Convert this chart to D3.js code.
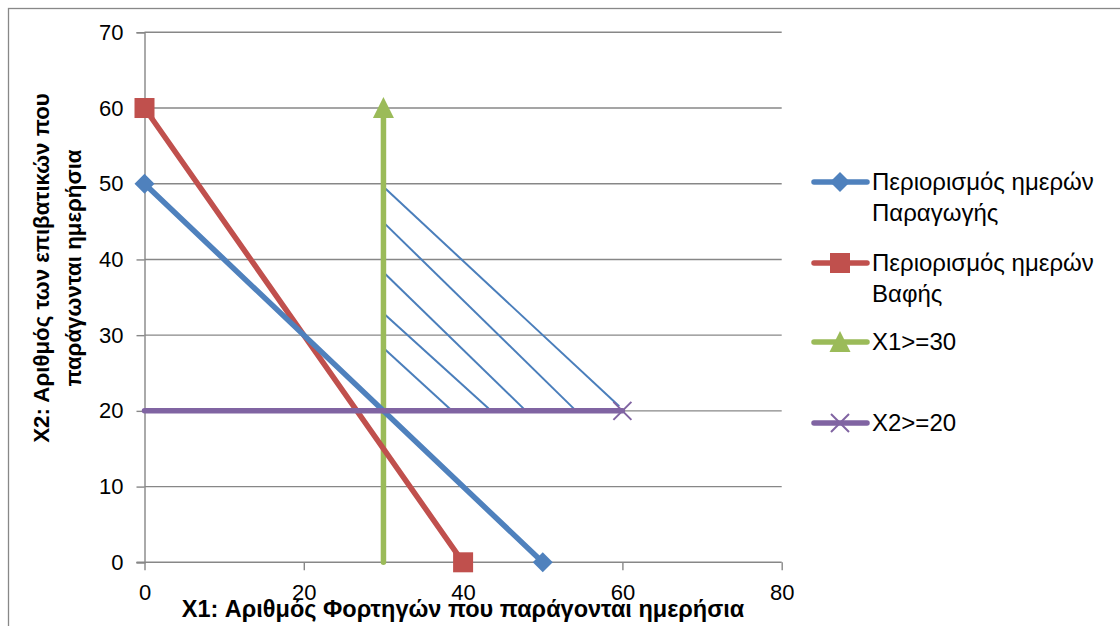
<!DOCTYPE html>
<html>
<head>
<meta charset="utf-8">
<script src="https://cdn.jsdelivr.net/npm/d3@7/dist/d3.min.js"></script>
<style>
  html, body { margin: 0; padding: 0; background: #fff; }
  svg { display: block; }
  text { font-family: "Liberation Sans", Arial, sans-serif; fill: #000; }
</style>
</head>
<body>
<svg id="chart" width="1120" height="626"></svg>
<script>
// ---- Data ----
const xTicks = [0, 20, 40, 60, 80];
const yTicks = [0, 10, 20, 30, 40, 50, 60, 70];

const seriesNames = ["Περιορισμός ημερών Παραγωγής", "Περιορισμός ημερών Βαφής", "X1>=30", "X2>=20"];
const legendLines = [["Περιορισμός ημερών", "Παραγωγής"], ["Περιορισμός ημερών", "Βαφής"], ["X1>=30"], ["X2>=20"]];
const productionX = [0, 50];
const productionY = [50, 0];
const dyeingX = [0, 40];
const dyeingY = [60, 0];
const x1LimitX = [30, 30];
const x1LimitY = [0, 60];
const x2LimitX = [0, 60];
const x2LimitY = [20, 20];
// points that carry a visible marker (index into each series)
const markedPoints = [[0, 1], [0, 1], [1], [1]];

// hatch lines inside the feasible region
const hatchStartX = [30, 30, 30, 30, 30];
const hatchStartY = [49.6, 44.9, 38.3, 32.9, 28.3];
const hatchEndX = [59.6, 53.9, 47.6, 43.2, 38.4];
const hatchEndY = [20.6, 20.3, 20.3, 20.3, 20.2];

const xTitle = "X1: Αριθμός Φορτηγών που παράγονται ημερήσια";
const yTitle = ["Χ2: Αριθμός των επιβατικών που", "παράγωνται ημερήσια"];

// ---- Styles ----
const colors = ["#4F81BD", "#C0504D", "#9BBB59", "#8064A2"];
const markerTypes = ["diamond", "square", "triangle", "x"];

const svg = d3.select("#chart");

const x = d3.scaleLinear().domain([0, 80]).range([144.5, 781.7]);
const y = d3.scaleLinear().domain([0, 70]).range([562.3, 32.3]);

// chart border
svg.append("rect").attr("x", 8.5).attr("y", 8.5).attr("width", 1130).attr("height", 640)
  .attr("fill", "none").attr("stroke", "#888").attr("stroke-width", 1.3);

// gridlines
svg.append("g").selectAll("line").data(yTicks.filter(d => d > 0)).join("line")
  .attr("x1", x(0)).attr("x2", x(80))
  .attr("y1", d => y(d)).attr("y2", d => y(d))
  .attr("stroke", "#878787").attr("stroke-width", 1.4);

// axes
const yAxis = d3.axisLeft(y).tickValues(yTicks).tickSize(8).tickPadding(13).tickFormat(d3.format("d"));
const xAxis = d3.axisBottom(x).tickValues(xTicks).tickSize(8).tickPadding(14).tickFormat(d3.format("d"));

const gy = svg.append("g").attr("transform", `translate(${x(0)},0)`).call(yAxis);
const gx = svg.append("g").attr("transform", `translate(0,${y(0)})`).call(xAxis);
[gx, gy].forEach(g => {
  g.select(".domain").attr("stroke", "#878787").attr("stroke-width", 1.4);
  g.selectAll(".tick line").attr("stroke", "#878787").attr("stroke-width", 1.4);
  g.selectAll(".tick text").attr("font-size", 22).attr("font-family", "Liberation Sans, Arial, sans-serif").attr("fill", "#000");
});
gx.select(".domain").attr("d", `M${x(0) - 8},0H${x(80)}`);
gx.selectAll(".tick text").attr("dy", "0.71em");

// hatch lines
svg.append("g").selectAll("line").data(hatchStartX.map((d, i) => i)).join("line")
  .attr("x1", i => x(hatchStartX[i])).attr("y1", i => y(hatchStartY[i]))
  .attr("x2", i => x(hatchEndX[i])).attr("y2", i => y(hatchEndY[i]))
  .attr("stroke", "#4A7EBB").attr("stroke-width", 2);

// series
const series = [
  { xs: productionX, ys: productionY },
  { xs: dyeingX, ys: dyeingY },
  { xs: x1LimitX, ys: x1LimitY },
  { xs: x2LimitX, ys: x2LimitY }
];

function drawMarker(g, type, cx, cy, color) {
  const s = 10;
  if (type === "diamond") {
    g.append("path").attr("d", `M${cx},${cy - s}L${cx + s},${cy}L${cx},${cy + s}L${cx - s},${cy}Z`).attr("fill", color);
  } else if (type === "square") {
    g.append("rect").attr("x", cx - s).attr("y", cy - s).attr("width", 2 * s).attr("height", 2 * s).attr("fill", color);
  } else if (type === "triangle") {
    g.append("path").attr("d", `M${cx},${cy - s - 1}L${cx + s + 0.5},${cy + s}L${cx - s - 0.5},${cy + s}Z`).attr("fill", color);
  } else if (type === "x") {
    const r = 9;
    g.append("path").attr("d", `M${cx - r},${cy - r}L${cx + r},${cy + r}M${cx - r},${cy + r}L${cx + r},${cy - r}`)
      .attr("stroke", color).attr("stroke-width", 2).attr("fill", "none");
  }
}

const line = d3.line().x(d => x(d[0])).y(d => y(d[1]));
const lineOrder = [2, 1, 0, 3];
lineOrder.forEach(si => {
  const s = series[si];
  const pts = s.xs.map((v, i) => [v, s.ys[i]]);
  svg.append("path").attr("d", line(pts)).attr("fill", "none")
    .attr("stroke", colors[si]).attr("stroke-width", 5.5).attr("stroke-linecap", "round");
});
lineOrder.forEach(si => {
  const s = series[si];
  const g = svg.append("g");
  markedPoints[si].forEach(i => drawMarker(g, markerTypes[si], x(s.xs[i]), y(s.ys[i]), colors[si]));
});

// legend
const legendY = [182, 263, 342, 423];
const legend = svg.append("g");
seriesNames.forEach((name, i) => {
  const ly = legendY[i];
  legend.append("line").attr("x1", 814).attr("x2", 867).attr("y1", ly).attr("y2", ly)
    .attr("stroke", colors[i]).attr("stroke-width", 5.5).attr("stroke-linecap", "round");
  drawMarker(legend, markerTypes[i], 840, ly, colors[i]);
  legendLines[i].forEach((t, k) => {
    legend.append("text").attr("x", 872).attr("y", ly + k * 31).attr("dy", "0.35em")
      .attr("font-size", 24).text(t);
  });
});

// axis titles
svg.append("text").attr("x", 463).attr("y", 609).attr("dy", "0.35em").attr("text-anchor", "middle")
  .attr("font-size", 23.5).attr("font-weight", "bold").text(xTitle);
yTitle.forEach((t, k) => {
  svg.append("text").attr("transform", `translate(${41 + k * 32},268) rotate(-90)`)
    .attr("text-anchor", "middle").attr("dy", "0.35em")
    .attr("font-size", 22.3).attr("font-weight", "bold").text(t);
});
</script>
</body>
</html>
